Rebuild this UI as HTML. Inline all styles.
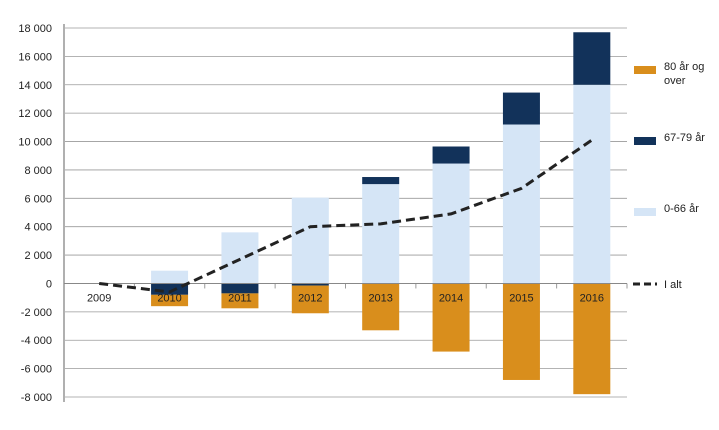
<!DOCTYPE html>
<html><head><meta charset="utf-8"><style>
body{margin:0;background:#fff;font-family:"Liberation Sans",sans-serif;}
svg text{font-family:"Liberation Sans",sans-serif;font-size:11px;fill:#222;}
</style></head><body>
<svg id="c" width="719" height="425"></svg>
<script>
const categories=["2009","2010","2011","2012","2013","2014","2015","2016"];
const age0_66=[0,900,3600,6050,7000,8450,11200,14000];
const age67_79=[0,-800,-700,-150,500,1200,2250,3700];
const age80=[0,-800,-1050,-1950,-3300,-4800,-6800,-7800];
const total=[0,-600,1700,4000,4200,4900,6700,10100];
const yTicks=[18000,16000,14000,12000,10000,8000,6000,4000,2000,0,-2000,-4000,-6000,-8000];
const tickLabels=["18 000","16 000","14 000","12 000","10 000","8 000","6 000","4 000","2 000","0","-2 000","-4 000","-6 000","-8 000"];
const NS="http://www.w3.org/2000/svg";
const svg=document.getElementById('c');
const x0=64,x1=627,yMax=18000,yMin=-8000,yTop=28,yBot=397;
const bw=(x1-x0)/categories.length;
const X=i=>x0+bw*(i+0.5);
const Y=v=>yTop+(yMax-v)/(yMax-yMin)*(yBot-yTop);
function mk(t,a){const e=document.createElementNS(NS,t);for(const k in a)e.setAttribute(k,a[k]);svg.appendChild(e);return e;}
yTicks.forEach((v,i)=>{
 const g=mk('line',{x1:x0,x2:x1,y1:Y(v),y2:Y(v),stroke:'#9a9a9a','stroke-width':0.8});
 
 
 const t=mk('text',{x:52,y:Y(v)+4,'text-anchor':'end'});t.textContent=tickLabels[i];
 
 
});
const ax=mk('line',{x1:x0,x2:x0,y1:yTop-4,y2:yBot+5,stroke:'#b0b0b0','stroke-width':2});


const C66='#d5e5f6',C67='#12325a',C80='#d98e1c';
categories.forEach((c,i)=>{
 const cx=X(i),w=37;
 function bar(a,b,col,n){if(a===b)return;const r=mk('rect',{x:cx-w/2,y:Math.min(Y(a),Y(b)),width:w,height:Math.abs(Y(a)-Y(b)),fill:col});
  
  }
 let pos=0,neg=0;
 [[age0_66[i],C66,'bar-0-66'],[age67_79[i],C67,'bar-67-79'],[age80[i],C80,'bar-80-over']].forEach(([v,col,n])=>{
  if(v>=0){bar(pos,pos+v,col,n);pos+=v;}else{bar(neg,neg+v,col,n);neg+=v;}
 });
 const tk=mk('line',{x1:x0+bw*(i+1),x2:x0+bw*(i+1),y1:Y(0),y2:Y(0)+5,stroke:'#9a9a9a'});
 
 
 const t=mk('text',{x:cx,y:Y(0)+18,'text-anchor':'middle'});t.textContent=c;
 
 
});
const zl=mk('line',{x1:x0,x2:x1,y1:Y(0),y2:Y(0),stroke:'#888','stroke-width':1});


const p=mk('polyline',{points:total.map((v,i)=>X(i)+','+Y(v)).join(' '),fill:'none',stroke:'#222','stroke-width':3,'stroke-dasharray':'9,5'});


const leg=[[C80,'80 år og','over',70],[C67,'67-79 år','',141],[C66,'0-66 år','',212]];
leg.forEach(([col,l1,l2,y])=>{
 const r=mk('rect',{x:634,y:y-4,width:22,height:8,fill:col});
 
 
 const t=mk('text',{x:664,y:y});t.textContent=l1;
 
 
 if(l2){const t2=mk('text',{x:664,y:y+14});t2.textContent=l2;
 
 }
});
const ll=mk('line',{x1:633,x2:657,y1:284,y2:284,stroke:'#222','stroke-width':3,'stroke-dasharray':'7,4'});


const lt=mk('text',{x:664,y:288});lt.textContent='I alt';


</script>
</body></html>
